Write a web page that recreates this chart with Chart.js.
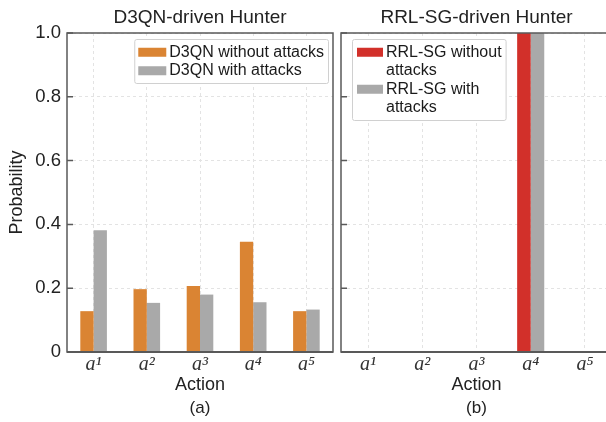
<!DOCTYPE html>
<html>
<head>
<meta charset="utf-8">
<script src="https://cdn.jsdelivr.net/npm/chart.js@4.4.1/dist/chart.umd.min.js"></script>
<style>
  html, body { margin: 0; padding: 0; background: #fff; width: 606px; height: 422px; overflow: hidden; }
  .panel { position: absolute; top: 0; height: 422px; }
  #left { left: 0; width: 340px; }
  #right { left: 336px; width: 276px; }
</style>
</head>
<body>
<div class="panel" id="left"><canvas id="chartA" width="340" height="422"></canvas></div>
<div class="panel" id="right"><canvas id="chartB" width="276" height="422"></canvas></div>
<script>
// data
const actions = ['a\u00b9', 'a\u00b2', 'a\u00b3', 'a\u2074', 'a\u2075'];
const yTicks = [0, 0.2, 0.4, 0.6, 0.8, 1.0];
const d3qnClean = [0.128, 0.197, 0.207, 0.346, 0.128];
const d3qnAttacked = [0.382, 0.154, 0.180, 0.156, 0.133];
const rrlClean = [0, 0, 0, 1.0, 0];
const rrlAttacked = [0, 0, 0, 1.0, 0];
const d3qnLabels = [['D3QN without attacks'], ['D3QN with attacks']];
const rrlLabels = [['RRL-SG without', 'attacks'], ['RRL-SG with', 'attacks']];

const SANS = '"Liberation Sans", Arial, sans-serif';
const SERIF = '"Liberation Serif", "DejaVu Serif", serif';
const ORANGE = '#da8433';
const GREY = '#a9a9a9';
const RED = '#d2302a';
const AXIS = '#595959';

// box + inward y ticks, drawn on top of the bars
const framePlugin = {
  id: 'frame',
  afterDatasetsDraw(chart) {
    const { ctx, chartArea: a, scales: { y } } = chart;
    ctx.save();
    ctx.strokeStyle = AXIS;
    ctx.lineWidth = 1.5;
    ctx.strokeRect(a.left, a.top, a.right - a.left, a.bottom - a.top);
    ctx.beginPath();
    y.ticks.forEach(t => {
      const py = y.getPixelForValue(t.value);
      ctx.moveTo(a.left, py);
      ctx.lineTo(a.left + 6, py);
    });
    ctx.stroke();
    ctx.lineWidth = 2.2;
    ctx.beginPath();
    ctx.moveTo(a.left, a.bottom);
    ctx.lineTo(a.right, a.bottom);
    ctx.stroke();
    ctx.restore();
  }
};

// legend box inside the plot area
const boxLegend = {
  id: 'boxLegend',
  afterDatasetsDraw(chart, args, opts) {
    const { ctx, chartArea: a } = chart;
    const lh = 18.5;
    ctx.save();
    ctx.font = '16px ' + SANS;
    let textW = 0, lines = 0;
    chart.data.datasets.forEach(ds => {
      ds.legendLines.forEach(l => { textW = Math.max(textW, ctx.measureText(l).width); });
      lines += ds.legendLines.length;
    });
    const w = opts.textX + textW + 4;
    const h = lines * lh + 7;
    const left = opts.side === 'right' ? a.right - opts.dx - w : a.left + opts.dx;
    const top = a.top + opts.dy;
    ctx.fillStyle = '#fff';
    ctx.strokeStyle = '#d0d0d0';
    ctx.lineWidth = 1;
    ctx.beginPath();
    ctx.roundRect(left + 0.5, top + 0.5, w, h, 2);
    ctx.fill();
    ctx.stroke();
    let row = 0;
    ctx.textBaseline = 'middle';
    chart.data.datasets.forEach(ds => {
      const y0 = top + 4 + (row + 0.5) * lh;
      ctx.fillStyle = ds.backgroundColor;
      ctx.fillRect(left + opts.swatchX, y0 - 4.5, opts.swatchW, 9);
      ctx.fillStyle = '#1a1a1a';
      ds.legendLines.forEach((l, i) => {
        ctx.fillText(l, left + opts.textX, top + 4 + (row + i + 0.5) * lh);
      });
      row += ds.legendLines.length;
    });
    ctx.restore();
  }
};

function makeChart(id, cfg) {
  const labelAxis = cfg.showYLabels;
  return new Chart(document.getElementById(id), {
    type: 'bar',
    data: {
      labels: actions,
      datasets: [
        { label: cfg.labels[0].join(' '), legendLines: cfg.labels[0], data: cfg.series[0], backgroundColor: cfg.colors[0] },
        { label: cfg.labels[1].join(' '), legendLines: cfg.labels[1], data: cfg.series[1], backgroundColor: cfg.colors[1] }
      ]
    },
    options: {
      responsive: false,
      animation: false,
      layout: { padding: { left: 0, right: cfg.padRight, top: 0, bottom: 0 } },
      datasets: { bar: { categoryPercentage: 0.5, barPercentage: 1.0 } },
      plugins: {
        legend: { display: false },
        tooltip: { enabled: false },
        title: {
          display: true,
          text: cfg.title,
          fullSize: false,
          color: '#222',
          font: { family: SANS, size: 19, weight: 'normal' },
          padding: { top: 6, bottom: 4.2 }
        },
        subtitle: {
          display: true,
          text: cfg.tag,
          position: 'bottom',
          fullSize: false,
          color: '#222',
          font: { family: SANS, size: 17, weight: 'normal' },
          padding: { top: 0, bottom: 3 }
        },
        boxLegend: cfg.legend
      },
      scales: {
        x: {
          offset: true,
          grid: { offset: false, drawTicks: false, color: '#e3e3e3', lineWidth: 1 },
          border: { display: false, dash: [3, 3] },
          ticks: { color: '#333', padding: 1, font: { family: SERIF, style: 'italic', size: 20 } },
          title: {
            display: true,
            text: 'Action',
            color: '#222',
            font: { family: SANS, size: 18 },
            padding: { top: 0, bottom: 3 }
          },
          afterFit: s => { s.height = 46.6; }
        },
        y: {
          min: 0,
          max: 1,
          grid: { drawTicks: false, color: '#e3e3e3', lineWidth: 1 },
          border: { display: false, dash: [3, 3] },
          afterBuildTicks: s => { s.ticks = yTicks.map(v => ({ value: v })); },
          ticks: {
            display: labelAxis,
            color: '#222',
            padding: 6,
            font: { family: SANS, size: 18.5 },
            callback: v => (v === 0 ? '0' : v.toFixed(1))
          },
          title: {
            display: labelAxis,
            text: 'Probability',
            color: '#222',
            font: { family: SANS, size: 18 },
            padding: { top: 6, bottom: 0 }
          },
          afterFit: s => { s.width = cfg.yWidth; }
        }
      }
    },
    plugins: [framePlugin, boxLegend]
  });
}

makeChart('chartA', {
  title: 'D3QN-driven Hunter',
  tag: '(a)',
  labels: d3qnLabels,
  series: [d3qnClean, d3qnAttacked],
  colors: [ORANGE, GREY],
  showYLabels: true,
  yWidth: 67,
  padRight: 7,
  legend: { side: 'right', dx: 5, dy: 6, swatchX: 4, swatchW: 28, textX: 35 }
});

makeChart('chartB', {
  title: 'RRL-SG-driven Hunter',
  tag: '(b)',
  labels: rrlLabels,
  series: [rrlClean, rrlAttacked],
  colors: [RED, GREY],
  showYLabels: false,
  yWidth: 5,
  padRight: 0,
  legend: { side: 'left', dx: 11, dy: 6, swatchX: 5, swatchW: 26, textX: 34 }
});
</script>
</body>
</html>
